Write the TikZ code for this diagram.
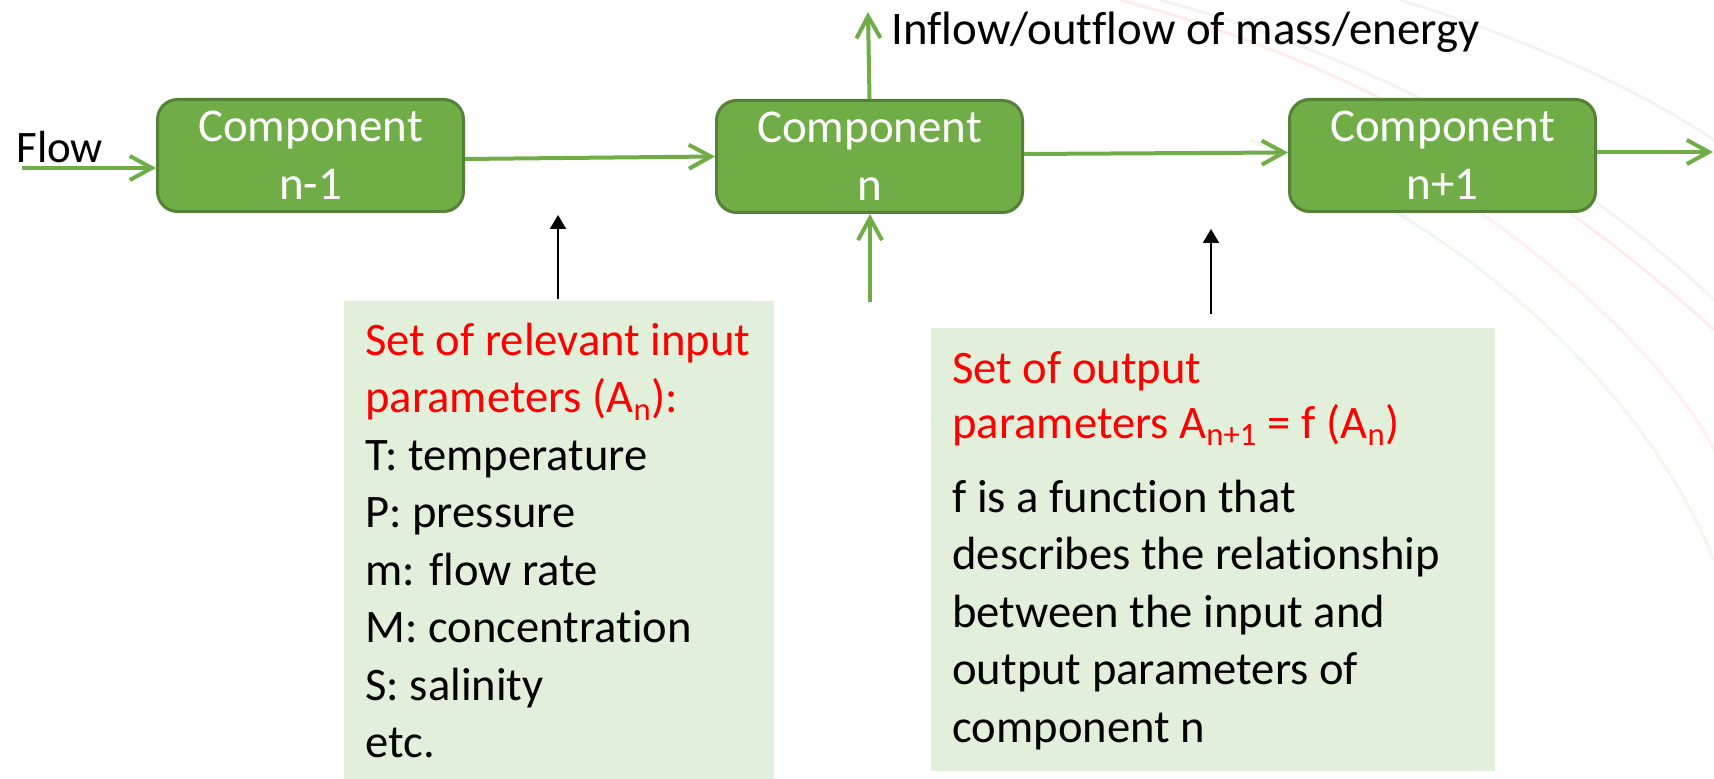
\documentclass[tikz,border=0pt]{standalone}
\usepackage{fontspec}
\setmainfont{Carlito}[Ligatures=CommonOff]
\usetikzlibrary{arrows.meta,calc}
\definecolor{boxgreen}{HTML}{70AD47}
\definecolor{boxedge}{HTML}{538135}
\definecolor{flowgreen}{HTML}{70AD47}
\definecolor{panel}{HTML}{E2EFDA}
\definecolor{redtxt}{HTML}{FF0000}
\begin{document}
\begin{tikzpicture}[x=0.5pt,y=-0.5pt,
  comp/.style={draw=boxedge, fill=boxgreen, line width=1.5pt, rounded corners=10pt,
    minimum width=153pt, minimum height=56pt, inner sep=0pt, align=center,
    text=white, font=\fontsize{23.5}{29}\selectfont},
  flowarrow/.style={draw=flowgreen, line width=2pt, -{Straight Barb[length=11pt,width=12pt]}},
  ptr/.style={draw=black, line width=1pt, -{Triangle[length=7pt,width=8pt]}},
  panelbox/.style={fill=panel, draw=none, inner sep=0pt, anchor=north west},
  paneltext/.style={anchor=north west, inner sep=0pt, align=left,
    font=\fontsize{23.3}{28.75}\selectfont},
  lbl/.style={anchor=base west, inner sep=0pt},
  bgarc/.style={line width=1.5pt, opacity=0.3}
]
\useasboundingbox (0,0) rectangle (1714,779);
\fill[white] (0,0) rectangle (1714,779);
% faint background arcs
\draw[bgarc, red!25] (1120,0) .. controls (1350,60) and (1550,180) .. (1714,330);
\draw[bgarc, gray!30] (1160,0) .. controls (1380,60) and (1580,170) .. (1714,300);
\draw[bgarc, gray!30] (1400,0) .. controls (1530,40) and (1640,90) .. (1714,140);
\draw[bgarc, green!25!gray!30] (1250,140) .. controls (1480,230) and (1650,400) .. (1714,560);
\draw[bgarc, red!20] (1380,150) .. controls (1560,250) and (1680,380) .. (1714,450);

% panels
\node[panelbox, minimum width=215pt, minimum height=239pt] (inpanel) at (344,301) {};
\node[panelbox, minimum width=282pt, minimum height=221.5pt] (outpanel) at (931,328) {};

% components
\node[comp] (c1) at (310.5,155.5) {Component\\n-1};
\node[comp] (c2) at (869.5,156.5) {Component\\n};
\node[comp] (c3) at (1442.5,155.5) {Component\\n+1};

% labels
\node[lbl, font=\fontsize{22.5}{27}\selectfont] (flowlbl) at (16,163) {Flow};
\node[lbl, font=\fontsize{23.4}{28}\selectfont] (inflowlbl) at (891,45) {Inflow/outflow of mass/energy};

% panel texts
\node[paneltext] (intext) at (365,315) {\rule{0pt}{20pt}\textcolor{redtxt}{Set of relevant input}\\
\textcolor{redtxt}{parameters (A\textsubscript{n}):}\\
T: temperature\\
P: pressure\\
m: flow rate\\
M: concentration\\
S: salinity\\
etc.};
\node[paneltext] (outtext) at (952,343) {\rule{0pt}{20pt}\textcolor{redtxt}{Set of output}\\[-1.25pt]
\textcolor{redtxt}{parameters A\textsubscript{n+1} = f (A\textsubscript{n})}\\[8.25pt]
f is a function that\\
describes the relationship\\
between the input and\\
output parameters of\\
component n};

% coordinates
\coordinate (fin) at (22,168);
\coordinate (fout) at (1713,152);
\coordinate (up) at (868,12);
\coordinate (below) at (870,302);
\coordinate (p1) at (558,299);
\coordinate (p1t) at (558,215);
\coordinate (p2) at (1211,314);
\coordinate (p2t) at (1211,229);

% connectors
\draw[flowarrow] (fin) -- (fin -| c1.west);
\draw[flowarrow] ($(c1.east)+(0,3.5)$) -- (c2.west);
\draw[flowarrow] ($(c2.east)+(0,-2.5)$) -- ($(c3.west)+(0,-3)$);
\draw[flowarrow] ($(c3.east)+(0,-3.5)$) -- (fout);
\draw[flowarrow] (c2.north) -- (up);
\draw[flowarrow] (below) -- (below |- c2.south);
\draw[ptr] (p1) -- (p1t);
\draw[ptr] (p2) -- (p2t);
\end{tikzpicture}
\end{document}
